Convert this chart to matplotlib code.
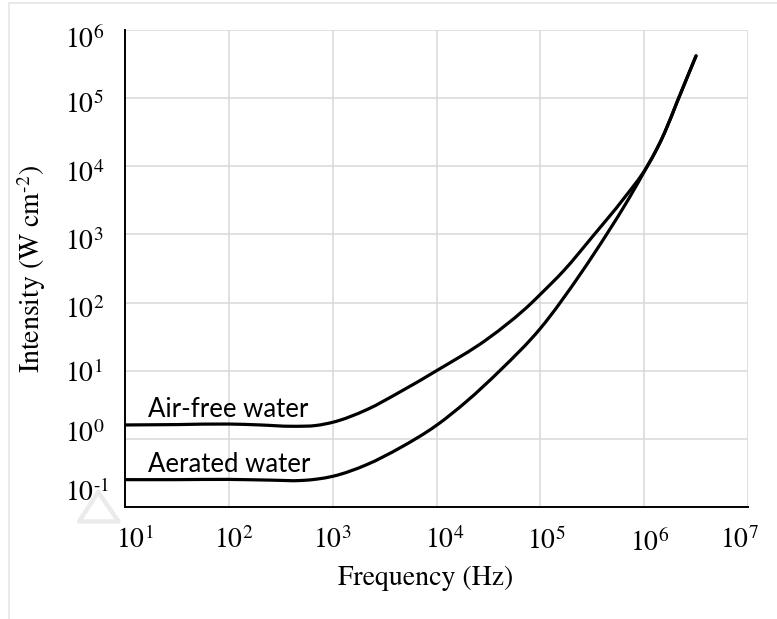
import numpy as np
import matplotlib
matplotlib.use("Agg")
import matplotlib.pyplot as plt
from matplotlib.path import Path
from matplotlib.patches import PathPatch, Rectangle, Polygon
from matplotlib.ticker import FixedLocator, NullLocator, NullFormatter
from matplotlib.transforms import blended_transform_factory, offset_copy

plt.rcParams['font.family'] = 'STIXGeneral'
plt.rcParams['mathtext.fontset'] = 'stix'

# intensity threshold curves (W cm^-2) vs frequency (Hz)
freq_airfree = [10, 32, 100, 200, 400, 710, 1000, 2140, 4470, 1.0e4, 3.05e4, 8.3e4,
                1.0e5, 1.66e5, 3.31e5, 6.31e5, 1.07e6, 1.32e6, 1.58e6, 2.07e6, 3.16e6]
int_airfree = [1.60, 1.62, 1.65, 1.60, 1.53, 1.58, 1.75, 2.69, 4.90, 10.0, 28.8, 100,
               132, 288, 1000, 3310, 10000, 17800, 31600, 87100, 417000]

freq_aerated = [10, 32, 100, 250, 500, 710, 1000, 2140, 4470, 1.0e4, 1.95e4, 4.07e4,
                1.0e5, 2.51e5, 4.47e5, 7.08e5, 1.07e6, 1.32e6, 1.58e6, 2.07e6, 3.16e6]
int_aerated = [0.252, 0.252, 0.254, 0.248, 0.245, 0.257, 0.282, 0.42, 0.741, 1.58, 3.55, 10.0,
               41.7, 282, 1070, 3310, 10000, 17800, 31600, 87100, 417000]

x_decades = [1, 2, 3, 4, 5, 6, 7]
y_decades = [-1, 0, 1, 2, 3, 4, 5, 6]

label_airfree = "Air-free water"
label_aerated = "Aerated water"

# hand-placed tick label nudges (pixels)
x_label_dx = [10, 5, 0, 8, 5.5, 5, -9]
x_label_drop = [41, 41, 41, 41, 42, 44, 41]
y_label_drop = [-6, 3, 11, 15, 15.5, 15.5, 14.5, 18]


def power_label(d):
    # short hyphen for negative exponents
    if d < 0:
        return r'$10^{\text{-}%d}$' % (-d)
    return r'$10^{%d}$' % d


def smooth_path(xs, ys):
    # piecewise cubic hermite in log-log space, written as bezier segments
    lx = np.log10(xs)
    ly = np.log10(ys)
    h = np.diff(lx)
    d = np.diff(ly) / h
    m = np.empty_like(lx)
    m[0] = d[0]
    m[-1] = d[-1]
    m[1:-1] = (d[:-1] * h[1:] + d[1:] * h[:-1]) / (h[:-1] + h[1:])
    verts = [(lx[0], ly[0])]
    codes = [Path.MOVETO]
    for i in range(len(lx) - 1):
        verts.append((lx[i] + h[i] / 3, ly[i] + m[i] * h[i] / 3))
        verts.append((lx[i + 1] - h[i] / 3, ly[i + 1] - m[i + 1] * h[i] / 3))
        verts.append((lx[i + 1], ly[i + 1]))
        codes += [Path.CURVE4] * 3
    return Path(10.0 ** np.array(verts), codes)


fig = plt.figure(figsize=(7.77, 6.19), dpi=100)
ax = fig.add_axes([125 / 777, 1 - 507 / 619, 623 / 777, 477 / 619])

ax.set_xscale('log')
ax.set_yscale('log')
ax.set_xlim(10 ** x_decades[0], 10 ** x_decades[-1])
ax.set_ylim(10 ** y_decades[0], 10 ** y_decades[-1])

for xs, ys in [(freq_airfree, int_airfree), (freq_aerated, int_aerated)]:
    patch = PathPatch(smooth_path(xs, ys), fill=False, edgecolor='black',
                      linewidth=2.3, capstyle='round', joinstyle='round', zorder=3)
    ax.add_patch(patch)

ax.xaxis.set_major_locator(FixedLocator([10.0 ** d for d in x_decades]))
ax.yaxis.set_major_locator(FixedLocator([10.0 ** d for d in y_decades]))
ax.xaxis.set_minor_locator(NullLocator())
ax.yaxis.set_minor_locator(NullLocator())
ax.xaxis.set_major_formatter(NullFormatter())
ax.yaxis.set_major_formatter(NullFormatter())
ax.xaxis.set_minor_formatter(NullFormatter())
ax.yaxis.set_minor_formatter(NullFormatter())
ax.tick_params(axis='both', length=0)

# tick labels drawn as text so each one can sit where it should
xt = blended_transform_factory(ax.transData, ax.transAxes)
for d, dx, dy in zip(x_decades, x_label_dx, x_label_drop):
    ax.text(10.0 ** d, 0, power_label(d), fontsize=20, ha='center', va='baseline',
            transform=offset_copy(xt, fig=fig, x=dx, y=-dy, units='dots'))
yt = blended_transform_factory(ax.transAxes, ax.transData)
for d, dy in zip(y_decades, y_label_drop):
    ax.text(0, 10.0 ** d, power_label(d), fontsize=20, ha='left', va='baseline',
            transform=offset_copy(yt, fig=fig, x=-60, y=-dy, units='dots'))

ax.grid(True, color='#d9d9d9', linewidth=1.1)
ax.set_axisbelow(True)
for side in ['top', 'right']:
    ax.spines[side].set_visible(False)
for side in ['left', 'bottom']:
    ax.spines[side].set_linewidth(1.4)
    ax.spines[side].set_color('black')

ax.set_xlabel('Frequency (Hz)', fontsize=20)
ax.xaxis.set_label_coords(0.4823, -0.124)
ax.set_ylabel(r'Intensity (W cm$^{\text{-}2}$)', fontsize=20)
ax.yaxis.set_label_coords(-0.123, 0.5)

ax.text(16.7, 2.12, label_airfree, family='Lato', fontsize=18.5, va='baseline')
ax.text(16.7, 0.33, label_aerated, family='Lato', fontsize=18.5, va='baseline')

# outer chart border and faint triangle glyph in pixel space
W, H = 777.0, 619.0
fig.patches.append(Rectangle((9 / W, -0.1), 1.2, 1 - 3 / H + 0.1, transform=fig.transFigure,
                             fill=False, edgecolor='#e6e6e6', linewidth=1.2))
tri = [(98.3 / W, 1 - 492 / H), (79 / W, 1 - 521.5 / H), (118.5 / W, 1 - 521.5 / H)]
fig.patches.append(Polygon(tri, closed=True, transform=fig.transFigure, fill=False,
                           edgecolor='#ebebeb', linewidth=3.2, joinstyle='round'))

fig.savefig('out.png', dpi=100)
